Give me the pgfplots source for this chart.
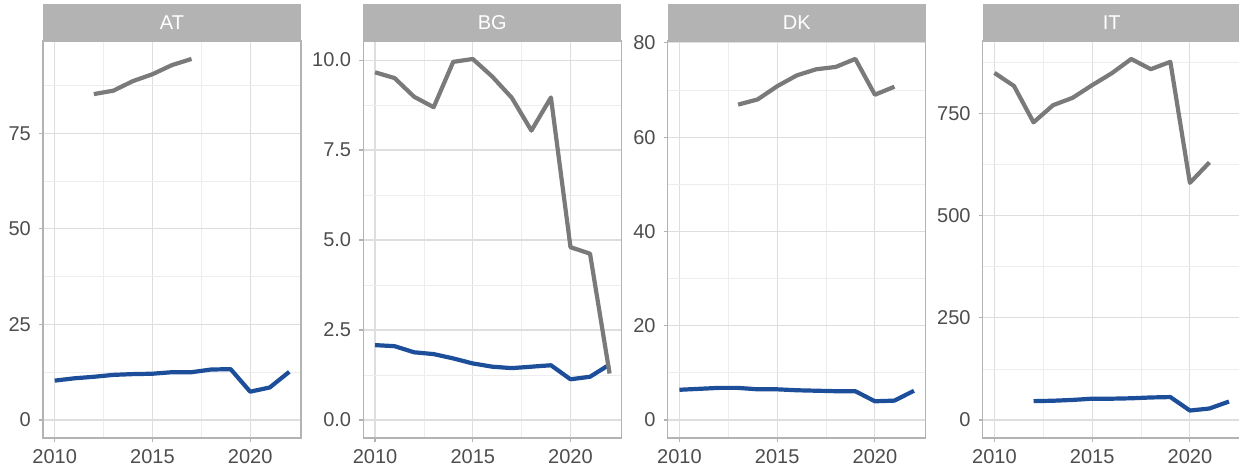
\documentclass[border=0pt]{standalone}
\usepackage{pgfplots}
\pgfplotsset{compat=1.18}
\usepackage{fontspec}
\setmainfont{Liberation Sans}
\definecolor{stripgray}{HTML}{B3B3B3}
\definecolor{gridmaj}{HTML}{DEDEDE}
\definecolor{gridmin}{HTML}{EDEDED}
\definecolor{ticktext}{HTML}{4D4D4D}
\definecolor{linegray}{HTML}{7A7A7A}
\definecolor{lineblue}{HTML}{1D4E99}
\pgfplotsset{facet/.style={
  width=258pt, height=397pt, scale only axis,
  anchor=south west,
  xmin=2009.4, xmax=2022.6,
  xtick={2010,2015,2020}, minor xtick={2012.5,2017.5},
  grid=both,
  major grid style={color=gridmaj, line width=1.1pt},
  minor grid style={color=gridmin, line width=0.7pt},
  axis line style={color=stripgray, line width=1.3pt},
  tick align=outside, tick pos=left, major tick length=4pt, minor tick length=0pt,
  tick style={color=stripgray, line width=1.1pt},
  tick label style={font=\fontsize{20}{22}\selectfont, text=ticktext},
  /pgf/number format/assume math mode=true,
  xticklabel style={/pgf/number format/1000 sep={}, anchor=north, inner sep=0pt, yshift=-7pt},
  yticklabel style={anchor=east, inner sep=0pt, xshift=-8pt},
  every axis plot/.append style={line width=4.2pt, line join=round, no markers},
},
strip/.style={extra description/.code={
  \fill[stripgray] (0,1) rectangle ([yshift=37pt]1,1);
  \node[text=white, font=\fontsize{20}{22}\selectfont, anchor=center, inner sep=0pt] at ([yshift=18.5pt]0.5,1) {#1};
}}}
\begin{document}
\begin{tikzpicture}
\useasboundingbox (0pt,0pt) rectangle (1239pt,-470pt);
% AT
\begin{axis}[facet, at={(43pt,-438pt)}, strip={AT},
  ymin=-4.725, ymax=99.2, ytick={0,25,50,75}, minor ytick={12.5,37.5,62.5,87.5}]
\addplot[lineblue] coordinates {(2010,10.3)(2011,10.9)(2012,11.3)(2013,11.8)(2014,12.0)(2015,12.1)(2016,12.5)(2017,12.5)(2018,13.2)(2019,13.3)(2020,7.4)(2021,8.5)(2022,12.6)};
\addplot[linegray] coordinates {(2012,85.3)(2013,86.2)(2014,88.7)(2015,90.5)(2016,92.9)(2017,94.5)};
\end{axis}
% BG
\begin{axis}[facet, at={(363.3pt,-438pt)}, strip={BG},
  ymin=-0.5015, ymax=10.53, ytick={0,2.5,5,7.5,10}, minor ytick={1.25,3.75,6.25,8.75},
  yticklabel style={/pgf/number format/.cd, fixed, fixed zerofill, precision=1}]
\addplot[lineblue] coordinates {(2010,2.08)(2011,2.05)(2012,1.88)(2013,1.83)(2014,1.71)(2015,1.57)(2016,1.48)(2017,1.44)(2018,1.48)(2019,1.52)(2020,1.13)(2021,1.20)(2022,1.54)};
\addplot[linegray] coordinates {(2010,9.66)(2011,9.50)(2012,8.98)(2013,8.69)(2014,9.95)(2015,10.03)(2016,9.54)(2017,8.95)(2018,8.04)(2019,8.96)(2020,4.80)(2021,4.62)(2022,1.29)};
\end{axis}
% DK
\begin{axis}[facet, at={(667.7pt,-438pt)}, strip={DK},
  ymin=-3.83, ymax=80.4, ytick={0,20,40,60,80}, minor ytick={10,30,50,70}]
\addplot[lineblue] coordinates {(2010,6.4)(2011,6.6)(2012,6.8)(2013,6.8)(2014,6.5)(2015,6.5)(2016,6.3)(2017,6.2)(2018,6.1)(2019,6.1)(2020,3.96)(2021,4.1)(2022,6.2)};
\addplot[linegray] coordinates {(2013,66.9)(2014,68.0)(2015,70.8)(2016,73.1)(2017,74.4)(2018,74.9)(2019,76.6)(2020,69.0)(2021,70.7)};
\end{axis}
% IT
\begin{axis}[facet, at={(982.7pt,-438pt)}, strip={IT},
  ymin=-44.15, ymax=927, ytick={0,250,500,750}, minor ytick={125,375,625,875}]
\addplot[lineblue] coordinates {(2012,46)(2013,47)(2014,49)(2015,52)(2016,52)(2017,53)(2018,55)(2019,56)(2020,23)(2021,28)(2022,45)};
\addplot[linegray] coordinates {(2010,849)(2011,817)(2012,728)(2013,770)(2014,788)(2015,819)(2016,848)(2017,883)(2018,858)(2019,876)(2020,580)(2021,630)};
\end{axis}
\end{tikzpicture}
\end{document}
